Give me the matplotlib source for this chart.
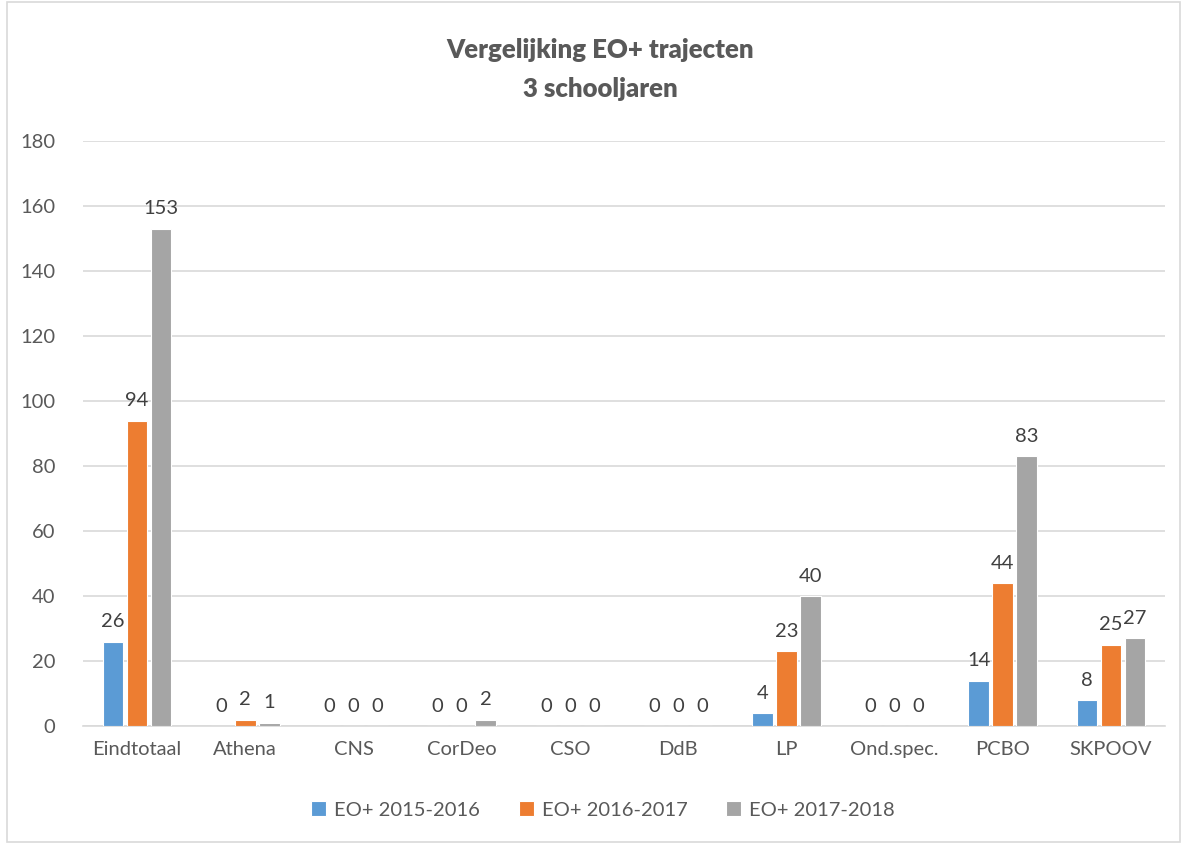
import matplotlib.pyplot as plt
import matplotlib.patches as mpatches
import numpy as np

plt.rcParams['font.family'] = ['Lato', 'DejaVu Sans']

categories = ["Eindtotaal", "Athena", "CNS", "CorDeo", "CSO", "DdB", "LP",
              "Ond.spec.", "PCBO", "SKPOOV"]
series_names = ["EO+ 2015-2016", "EO+ 2016-2017", "EO+ 2017-2018"]
eo_2015 = [26, 0, 0, 0, 0, 0, 4, 0, 14, 8]
eo_2016 = [94, 2, 0, 0, 0, 0, 23, 0, 44, 25]
eo_2017 = [153, 1, 0, 2, 0, 0, 40, 0, 83, 27]
y_ticks = [0, 20, 40, 60, 80, 100, 120, 140, 160, 180]

colors = ["#5B9BD5", "#ED7D31", "#A5A5A5"]
text_col = "#595959"

fig = plt.figure(figsize=(11.87, 8.44), dpi=100)
ax = fig.add_axes([83 / 1187, 118 / 844, 1082 / 1187, 585 / 844])

x = np.arange(len(categories))
pitch = 0.222
width = 0.19
for k, vals in enumerate([eo_2015, eo_2016, eo_2017]):
    pos = x + (k - 1) * pitch
    ax.bar(pos, vals, width, color=colors[k], edgecolor="white",
           linewidth=0.8, label=series_names[k], zorder=3)
    for xi, v in zip(pos, vals):
        ax.text(xi, v + 3.5, str(v), ha="center", va="bottom",
                fontsize=14.5, color="#404040")

ax.set_xlim(-0.5, len(categories) - 0.5)
ax.set_ylim(0, 180)
ax.set_yticks(y_ticks)
ax.set_xticks(x)
ax.set_xticklabels(categories)
ax.tick_params(axis="both", length=0, labelsize=14.5, labelcolor=text_col)
ax.tick_params(axis="x", pad=11)
ax.tick_params(axis="y", pad=20)
ax.grid(axis="y", color="#D9D9D9", linewidth=1.2, zorder=0)
for s in ["top", "right", "left"]:
    ax.spines[s].set_visible(False)
ax.spines["bottom"].set_color("#D9D9D9")
ax.spines["bottom"].set_linewidth(1.2)

fig.text(600 / 1187, 1 - 50 / 844, "Vergelijking EO+ trajecten", ha="center",
         va="center", fontsize=18.5, fontweight="heavy", color=text_col)
fig.text(600 / 1187, 1 - 89 / 844, "3 schooljaren", ha="center",
         va="center", fontsize=18.5, fontweight="heavy", color=text_col)

ax.legend(loc="center", bbox_to_anchor=(603 / 1187, 1 - 810 / 844),
          bbox_transform=fig.transFigure, ncol=3, frameon=False,
          fontsize=14.5, labelcolor=text_col, handlelength=0.75,
          handleheight=0.75, handletextpad=0.4, columnspacing=1.9)

fig.patches.append(mpatches.Rectangle((7 / 1187, 2 / 844), 1173 / 1187, 840 / 844,
                                      transform=fig.transFigure, fill=False,
                                      edgecolor="#D9D9D9", linewidth=1.2))

plt.savefig("out.png", dpi=100)
